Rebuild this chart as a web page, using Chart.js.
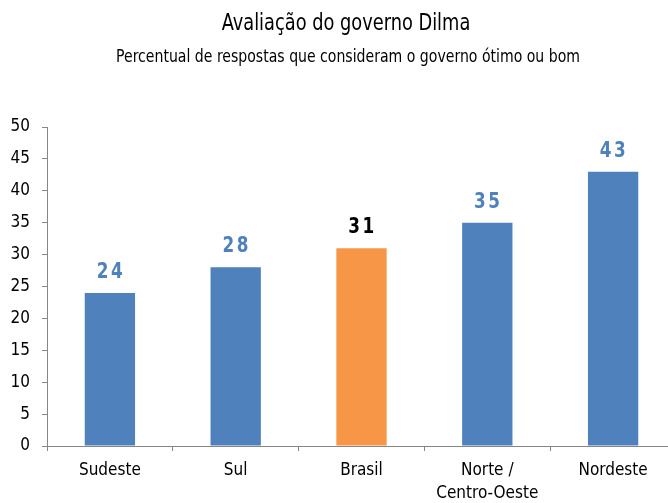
<!DOCTYPE html>
<html>
<head>
<meta charset="utf-8">
<script src="https://cdn.jsdelivr.net/npm/chart.js@4"></script>
<style>
  html, body { margin: 0; padding: 0; background: #fff; overflow: hidden; }
  #wrap { width: 690px; height: 503px; }
</style>
</head>
<body>
<div id="wrap"><canvas id="grafico" width="690" height="503"></canvas></div>
<script>
// Datos del gráfico
const regioes = ['Sudeste', 'Sul', 'Brasil', ['Norte /', 'Centro-Oeste'], 'Nordeste'];
const otimoBom = [24, 28, 31, 35, 43];
const cores = ['#4F81BD', '#4F81BD', '#F79646', '#4F81BD', '#4F81BD'];
const coresRotulo = ['#4F81BD', '#4F81BD', '#000000', '#4F81BD', '#4F81BD'];

const titulo = 'Avaliação do governo Dilma';
const subtitulo = 'Percentual de respostas que consideram o governo ótimo ou bom';

const FONTE = "'Liberation Sans Narrow', 'DejaVu Sans Condensed', 'Arial Narrow', sans-serif";

// Texto "condensado": se estrecha horizontalmente alrededor de x
function textoEstreito(ctx, texto, x, y, escala) {
    ctx.save();
    ctx.translate(x, y);
    ctx.scale(escala, 1);
    ctx.fillText(texto, 0, 0);
    ctx.restore();
}

// Plugin para títulos y valores encima de las barras
const rotulosPlugin = {
    id: 'rotulos',
    afterDatasetsDraw(chart) {
        const { ctx } = chart;
        const meta = chart.getDatasetMeta(0);
        ctx.save();
        ctx.font = 'bold 22px ' + FONTE;
        ctx.textAlign = 'center';
        ctx.textBaseline = 'alphabetic';
        ctx.letterSpacing = '3px';
        meta.data.forEach((bar, i) => {
            ctx.fillStyle = coresRotulo[i];
            textoEstreito(ctx, String(otimoBom[i]), bar.x + 1, bar.y - 15, 0.85);
        });
        ctx.restore();

        ctx.save();
        ctx.fillStyle = '#000';
        ctx.textAlign = 'center';
        ctx.textBaseline = 'alphabetic';
        ctx.font = '23px ' + FONTE;
        textoEstreito(ctx, titulo, 346, 30, 0.86);
        ctx.font = '17px ' + FONTE;
        textoEstreito(ctx, subtitulo, 348, 62, 0.92);
        ctx.restore();
    }
};

const ctx = document.getElementById('grafico').getContext('2d');
new Chart(ctx, {
    type: 'bar',
    data: {
        labels: regioes,
        datasets: [{
            data: otimoBom,
            backgroundColor: cores,
            barPercentage: 0.4,
            categoryPercentage: 1.0
        }]
    },
    options: {
        responsive: false,
        animation: false,
        layout: { padding: { top: 127, right: 14, left: 0, bottom: 0 } },
        scales: {
            y: {
                min: 0,
                max: 50,
                ticks: {
                    stepSize: 5,
                    color: '#000',
                    padding: 12,
                    font: { family: FONTE, size: 17 }
                },
                grid: { drawOnChartArea: false, tickLength: 5, color: '#868686' },
                border: { color: '#868686', width: 1 },
                afterFit(scale) { scale.width = 47; }
            },
            x: {
                ticks: {
                    color: '#000',
                    padding: 9,
                    font: { family: FONTE, size: 17, lineHeight: 1.3 }
                },
                grid: { drawOnChartArea: false, tickLength: 5, color: '#868686', offset: true },
                border: { color: '#868686', width: 1 },
                afterFit(scale) { scale.height = 57; }
            }
        },
        plugins: {
            legend: { display: false },
            tooltip: { enabled: false }
        }
    },
    plugins: [rotulosPlugin]
});
</script>
</body>
</html>
